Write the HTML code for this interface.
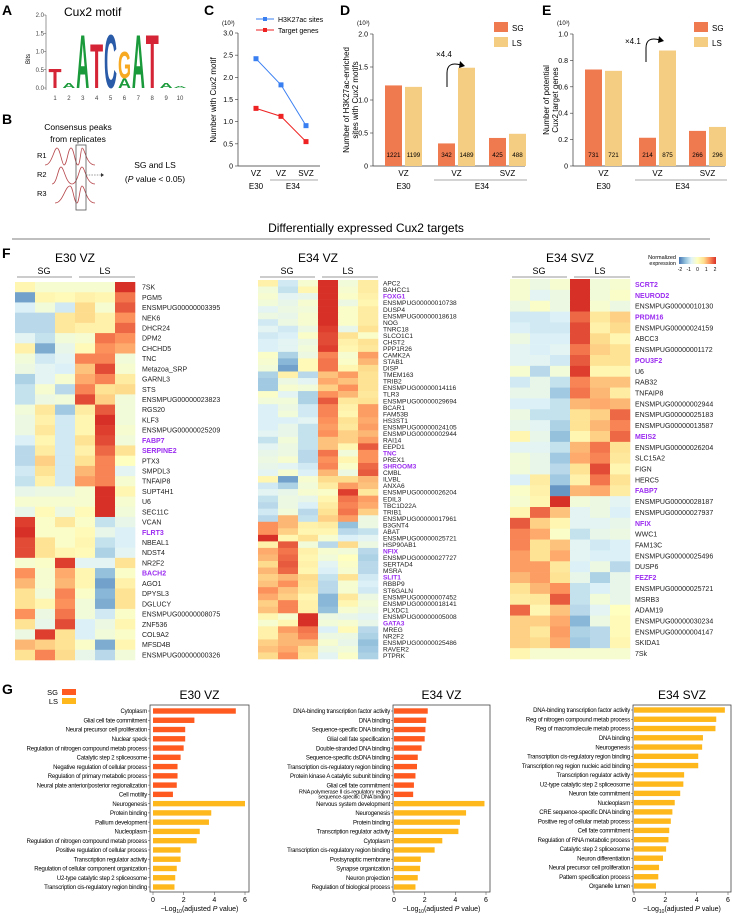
<!DOCTYPE html>
<html><head><meta charset="utf-8"><style>
body{margin:0;background:#fff}
svg{display:block;font-family:"Liberation Sans",Arial,sans-serif}
</style></head><body>
<svg id="fig" width="732" height="914" viewBox="0 0 732 914" xmlns="http://www.w3.org/2000/svg">
<!-- Panel letters -->
<g font-weight="bold" font-size="14" fill="#000">
<text x="2" y="15">A</text>
<text x="2" y="124">B</text>
<text x="204" y="15">C</text>
<text x="340" y="15">D</text>
<text x="542" y="15">E</text>
<text x="2" y="258">F</text>
<text x="2" y="694">G</text>
</g>
<!-- A motif -->
<g>
<text x="64" y="16" font-size="12">Cux2 motif</text>
<text transform="translate(30,59) rotate(-90)" font-size="6" text-anchor="middle">Bits</text>
<line x1="46" y1="15" x2="46" y2="90" stroke="#555" stroke-width="0.6"/>
<g id="logoTicks" font-size="6" fill="#444"></g>
<g id="logoLetters"></g>
</g>
<!-- B -->
<g font-size="8.5">
<text x="78" y="130" text-anchor="middle">Consensus peaks</text>
<text x="78" y="142" text-anchor="middle">from replicates</text>
<text x="37" y="158" font-size="7.5">R1</text>
<text x="37" y="177" font-size="7.5">R2</text>
<text x="37" y="196" font-size="7.5">R3</text>
<g fill="none" stroke="#b5454a" stroke-width="0.8">
<path d="M45,165 C52,165 54,148 57,148 C60,148 62,165 64,165 C67,165 68,148 71,148 C74,148 75,165 78,165 C80,165 81,148 82,148 C85,148 86,165 95,165"/>
<path d="M52,184 C57,184 58,167 61,167 C64,167 66,184 72,184 C78,184 79,167 82,167 C85,167 86,184 95,184"/>
<path d="M55,203 C63,203 65,186 70,186 C73,186 74,203 77,203 C79,203 80,186 82,186 C85,186 86,203 95,203"/>
</g>
<rect x="76" y="145" width="10" height="65" fill="none" stroke="#555" stroke-width="0.8"/>
<line x1="86" y1="175" x2="101" y2="175" stroke="#333" stroke-width="0.6" stroke-dasharray="1.5,1.2"/>
<path d="M101,173 L104,175 L101,177Z" fill="#333"/>
<text x="155" y="168" text-anchor="middle">SG and LS</text>
<text x="155" y="182" text-anchor="middle">(<tspan font-style="italic">P</tspan> value &lt; 0.05)</text>
</g>
<g id="panelC"></g>
<g id="panelD"></g>
<g id="panelE"></g>
<!-- section title -->
<text x="366" y="232" text-anchor="middle" font-size="12">Differentially expressed Cux2 targets</text>
<line x1="12" y1="239" x2="710" y2="239" stroke="#555" stroke-width="0.8"/>
<g id="panelF"></g>
<g id="panelG"></g>
</svg>
<script>
// ---------- data ----------
var motifPositions=[1,2,3,4,5,6,7,8,9,10];
var cGroups=["VZ","VZ","SVZ"];
var cH3K27ac=[2.42,1.83,0.91];
var cTargets=[1.30,1.12,0.55];
var cTicks=[0,0.5,1.0,1.5,2.0,2.5,3.0];
var barGroups=["VZ","VZ","SVZ"];
var dSG=[1221,342,425];
var dLS=[1199,1489,488];
var dTicks=[0,0.5,1.0,1.5,2.0];
var eSG=[731,214,266];
var eLS=[721,875,296];
var eTicks=[0,0.2,0.4,0.6,0.8,1.0];

var hm1Genes=["7SK","PGM5","ENSMPUG00000003395","NEK6","DHCR24","DPM2","CHCHD5","TNC","Metazoa_SRP","GARNL3","STS","ENSMPUG00000023823","RGS20","KLF3","ENSMPUG00000025209","FABP7","SERPINE2","PTX3","SMPDL3","TNFAIP8","SUPT4H1","U6","SEC11C","VCAN","FLRT3","NBEAL1","NDST4","NR2F2","BACH2","AGO1","DPYSL3","DGLUCY","ENSMPUG00000008075","ZNF536","COL9A2","MFSD4B","ENSMPUG00000000326"];
var hm1Purple=["FABP7","SERPINE2","FLRT3","BACH2"];
var hm1Values=[
[0.2,-0.2,-0.2,-0.2,-0.2,2.0],[-1.6,0.2,0.1,0.3,0.2,1.5],[-0.7,-0.3,-0.8,0.7,-0.2,1.7],[-1.0,-1.0,0.5,0.7,0.3,1.3],[-1.0,-1.0,0.5,0.3,0.3,1.6],[-0.6,-0.9,-0.3,-0.2,1.5,1.3],[0.3,-1.5,-0.5,0.1,1.3,1.1],[-0.3,-0.8,-0.6,1.4,1.4,-0.3],[-0.4,-0.6,-0.7,0.9,1.8,-0.2],[-1.1,-0.6,-0.2,1.1,1.4,0.4],[-0.9,-0.2,-1.0,1.4,0.6,0.7],[-0.9,-0.4,-0.3,1.8,0.8,-0.3],[-0.3,0.5,-1.2,0.4,1.7,-0.3],[-0.4,0.3,-0.8,0.2,2.0,-0.3],[-0.4,0.5,-0.8,0.2,1.9,-0.2],[-0.7,0.2,-0.8,0.6,1.8,-0.3],[-1.0,0.4,-0.8,0.3,1.6,0.6],[-1.0,0.8,-0.8,0.6,1.4,0.0],[-0.8,0.6,-0.8,1.0,1.4,-0.6],[-0.9,0.3,-0.8,1.2,1.4,-0.2],[-0.5,-0.4,-0.4,-0.2,2.1,0.2],[-0.2,-0.2,-0.2,-0.2,2.1,-0.2],[-0.5,0.1,-0.4,0.1,2.1,-0.3],[1.9,-0.1,0.5,-0.1,-0.9,-0.5],[2.1,-0.1,-0.1,0.1,-0.5,-0.7],[1.8,0.6,-0.1,0.2,-0.9,-0.7],[1.8,0.6,0.2,0.1,-1.1,-0.6],[-0.2,-0.1,1.9,-0.6,-0.6,0.6],[1.3,-0.2,1.1,0.2,-1.3,-0.1],[1.0,-0.2,1.0,0.2,-1.6,0.3],[0.6,-0.3,1.4,-0.1,-1.4,0.6],[0.6,0.2,1.3,-0.3,-1.5,0.6],[1.3,-0.4,1.5,-0.3,-0.8,-0.1],[0.6,-0.5,1.8,-0.7,-0.4,0.2],[-0.4,1.9,0.6,-0.7,-0.3,-0.1],[1.0,0.8,0.6,-0.1,-1.5,0.2],[0.6,1.4,0.7,-0.5,-1.0,-0.3]];

var hm2Genes=["APC2","BAHCC1","FOXG1","ENSMPUG00000010738","DUSP4","ENSMPUG00000018618","NOG","TNRC18","SLCO1C1","CHST2","PPP1R26","CAMK2A","STAB1","DISP","TMEM163","TRIB2","ENSMPUG00000014116","TLR3","ENSMPUG00000029694","BCAR1","FAM53B","HS3ST1","ENSMPUG00000024105","ENSMPUG00000002944","RAI14","EEPD1","TNC","PREX1","SHROOM3","CMBL","ILVBL","ANXA6","ENSMPUG00000026204","EDIL3","TBC1D22A","TRIB1","ENSMPUG00000017961","B3GNT4","ABAT","ENSMPUG00000025721","HSP90AB1","NFIX","ENSMPUG00000027727","SERTAD4","MSRA","SLIT1","RBBP9","ST6GALN","ENSMPUG00000007452","ENSMPUG00000018141","PLXDC1","ENSMPUG00000005008","GATA3","MREG","NR2F2","ENSMPUG00000025486","RAVER2","PTPRK"];
var hm2Purple=["FOXG1","TNC","SHROOM3","NFIX","SLIT1","GATA3"];
var hm2Values=[
[0.3,-0.8,-0.2,2.0,-0.3,0.4],[-0.3,-0.9,0.2,2.0,-0.2,0.4],[-0.2,-0.6,-0.5,2.0,-0.1,0.3],[-0.3,-0.5,-0.2,2.1,-0.4,0.2],[-0.6,-0.4,-0.3,2.0,-0.1,0.4],[-0.4,-0.5,-0.2,2.0,-0.1,0.4],[-0.8,-0.4,-0.2,2.0,-0.1,0.4],[-0.6,-0.8,-0.4,1.9,-0.5,0.6],[-0.8,-0.7,-0.1,1.8,0.6,-0.1],[-0.7,-0.6,-0.4,1.8,0.3,0.6],[-0.7,-0.6,-0.3,1.9,0.2,0.5],[-0.1,-1.1,-0.4,1.4,-0.2,1.2],[-0.2,-1.4,0.1,1.5,-0.1,1.0],[-0.3,-1.6,0.1,1.5,0.2,0.7],[-1.1,0.3,-1.0,0.9,1.2,0.6],[-1.2,-0.4,-0.6,1.1,0.9,0.6],[-1.2,-0.2,-0.3,0.8,1.3,0.6],[-0.1,-0.6,-1.1,1.3,1.0,0.5],[-0.3,-0.3,-1.1,1.7,0.5,0.6],[-0.7,-0.4,-0.8,1.4,0.3,1.2],[-0.7,-0.3,-0.8,1.4,0.2,1.2],[-0.7,-0.7,-0.6,1.3,0.6,1.1],[-0.7,-0.5,-0.9,1.2,0.5,1.2],[-0.6,-0.5,-0.9,1.3,0.8,1.0],[-0.9,-0.3,-0.9,0.9,0.8,1.2],[-0.6,-0.4,-0.9,0.9,0.2,1.7],[-0.5,-0.4,-1.0,1.5,-0.3,1.3],[-0.4,-0.2,-1.0,1.3,0.2,1.3],[-0.5,-0.6,-0.8,1.4,-0.1,1.6],[-0.6,-0.2,-0.7,1.0,-0.4,1.7],[0.2,-1.6,-0.2,0.7,0.7,1.0],[-0.8,-1.1,-0.3,0.4,1.2,0.9],[-0.6,-0.5,-0.2,-0.1,1.9,0.5],[-0.9,-0.4,-0.5,0.2,1.5,1.2],[-1.0,-0.4,-0.7,0.4,1.4,1.1],[-0.8,-0.3,-1.0,0.6,1.5,0.8],[-1.0,1.0,-0.9,0.8,1.2,-0.4],[1.3,1.0,0.3,0.4,-1.3,-0.4],[1.3,0.8,0.2,0.2,-1.0,-0.9],[2.0,0.2,0.6,-0.2,-0.7,-0.6],[0.3,1.7,-0.3,-1.0,0.7,-0.4],[1.1,1.5,0.3,-0.2,-0.3,-1.0],[1.0,1.6,0.2,-0.3,0.0,-1.1],[0.7,1.7,0.3,-0.6,-0.1,-1.0],[1.0,1.6,0.2,-0.7,-0.2,-1.0],[0.8,1.0,0.7,-0.9,0.6,-0.8],[0.9,1.3,0.6,-1.0,-0.2,-0.7],[1.3,0.9,0.5,-1.0,-0.2,-0.8],[1.1,0.8,0.2,-1.4,0.5,-0.4],[0.8,1.4,0.3,-1.4,0.2,-0.3],[0.9,1.4,0.3,-1.3,-0.2,-0.4],[0.2,-0.2,2.0,-0.4,-0.5,-0.6],[-0.2,0.2,2.0,-0.3,-0.2,-0.5],[0.3,1.2,1.5,-0.7,0.1,-1.0],[0.3,1.0,1.4,-0.4,-0.4,-1.1],[0.8,1.0,1.0,-0.2,-0.5,-1.3],[0.9,1.1,0.7,-0.4,-0.3,-1.2],[0.7,1.3,0.6,-0.6,-0.1,-1.1]];

var hm3Genes=["SCRT2","NEUROD2","ENSMPUG00000010130","PRDM16","ENSMPUG00000024159","ABCC3","ENSMPUG00000001172","POU3F2","U6","RAB32","TNFAIP8","ENSMPUG00000002944","ENSMPUG00000025183","ENSMPUG00000013587","MEIS2","ENSMPUG00000026204","SLC15A2","FIGN","HERC5","FABP7","ENSMPUG00000028187","ENSMPUG00000027937","NFIX","WWC1","FAM13C","ENSMPUG00000025496","DUSP6","FEZF2","ENSMPUG00000025721","MSRB3","ADAM19","ENSMPUG00000030234","ENSMPUG00000004147","SKIDA1","7Sk"];
var hm3Purple=["SCRT2","NEUROD2","PRDM16","POU3F2","MEIS2","FABP7","NFIX","FEZF2"];
var hm3Values=[
[-0.2,-0.4,-0.2,2.1,-0.3,-0.2],[-0.2,-0.6,-0.4,2.1,-0.3,-0.1],[-0.4,-0.1,-0.4,2.1,-0.2,-0.4],[-0.8,-0.8,-0.7,1.6,0.5,0.8],[-0.7,-0.8,-0.8,1.8,0.3,0.7],[-0.4,-0.7,-0.7,1.8,0.7,0.2],[-0.6,-0.7,-0.6,1.5,0.8,0.6],[-0.6,-0.6,-0.8,1.7,0.6,0.6],[-0.2,-1.0,-0.3,1.9,0.2,0.2],[-0.8,-0.5,-0.9,1.4,0.9,0.9],[-0.5,-0.5,-1.2,1.5,1.0,0.4],[-0.7,-0.7,-0.9,1.0,1.1,1.0],[-0.4,-0.9,-0.9,0.6,0.8,1.6],[-0.5,-0.6,-1.1,0.6,1.0,1.4],[0.2,-0.5,-1.3,0.2,0.8,1.6],[-0.6,-0.6,-0.9,1.0,1.5,0.6],[-0.3,-0.5,-1.2,1.1,1.4,0.5],[-0.3,-0.5,-1.0,0.6,1.8,0.2],[-0.7,0.4,-1.2,0.3,1.5,0.6],[-0.1,0.3,-1.7,1.0,1.1,0.4],[-0.2,0.2,2.0,-0.3,-0.4,-0.6],[0.2,1.6,0.9,-0.6,-0.4,-0.7],[1.7,0.8,0.2,-0.6,-0.6,-0.5],[1.4,1.1,-0.1,-0.9,-0.5,-0.4],[1.4,0.6,0.9,-0.6,-0.8,-0.7],[1.2,0.6,1.1,-0.6,-0.7,-0.7],[1.2,1.2,0.5,-0.7,-0.4,-1.0],[1.0,1.2,0.6,-0.5,-1.1,-0.5],[0.6,1.0,1.3,-0.9,-0.7,-0.5],[0.4,0.5,1.7,-0.9,-0.3,-0.5],[1.6,0.2,0.9,-1.0,-0.6,0.0],[0.8,0.8,1.1,-1.4,-0.4,0.1],[0.8,0.5,1.2,-1.1,-1.0,0.1],[0.8,0.7,1.1,-1.2,-1.0,0.2],[0.2,-0.2,-0.2,-0.2,-0.2,-0.2]];
var colorbarTicks=[-2,-1,0,1,2];

var g1Terms=["Cytoplasm","Glial cell fate commitment","Neural precursor cell proliferation","Nuclear speck","Regulation of nitrogen compound metab process","Catalytic step 2 spliceosome","Negative regulation of cellular process","Regulation of primary metabolic process","Neural plate anterior/posterior regionalization","Cell motility","Neurogenesis","Protein binding","Pallium development","Nucleoplasm","Regulation of nitrogen compound metab process","Positive regulation of cellular process","Transcription regulator activity","Regulation of cellular component organization","U2-type catalytic step 2 spliceosome","Transcription cis-regulatory region binding"];
var g1Values=[5.4,2.7,2.1,2.1,2.0,1.8,1.6,1.6,1.55,1.3,6.0,3.8,3.65,3.05,2.85,1.8,1.8,1.55,1.45,1.4];
var g1Group=["SG","SG","SG","SG","SG","SG","SG","SG","SG","SG","LS","LS","LS","LS","LS","LS","LS","LS","LS","LS"];
var g2Terms=["DNA-binding transcription factor activity","DNA binding","Sequence-specific DNA binding","Glial cell fate specification","Double-stranded DNA binding","Sequence-specific dsDNA binding","Transcription cis-regulatory region binding","Protein kinase A catalytic subunit binding","Glial cell fate commitment","RNA polymerase II cis-regulatory region|sequence-specific DNA binding","Nervous system development","Neurogenesis","Protein binding","Transcription regulator activity","Cytoplasm","Transcription cis-regulatory region binding","Postsynaptic membrane","Synapse organization","Neuron projection","Regulation of biological process"];
var g2Values=[2.2,2.1,2.05,2.0,1.8,1.55,1.5,1.4,1.3,1.25,5.9,4.7,4.3,4.2,3.15,2.65,1.75,1.7,1.55,1.4];
var g2Group=["SG","SG","SG","SG","SG","SG","SG","SG","SG","SG","LS","LS","LS","LS","LS","LS","LS","LS","LS","LS"];
var g3Terms=["DNA-binding transcription factor activity","Reg of nitrogen compound metab process","Reg of macromolecule metab process","DNA binding","Neurogenesis","Transcription cis-regulatory region binding","Transcription reg region nucleic acid binding","Transcription regulator activity","U2-type catalytic step 2 spliceosome","Neuron fate commitment","Nucleoplasm","CRE sequence-specific DNA binding","Positive reg of cellular metab process","Cell fate commitment","Regulation of RNA metabolic process","Catalytic step 2 spliceosome","Neuron differentiation","Neural precursor cell proliferation","Pattern specification process","Organelle lumen"];
var g3Values=[5.8,5.25,5.2,4.4,4.35,4.1,4.1,3.2,3.15,2.95,2.6,2.45,2.35,2.25,2.2,2.05,1.85,1.6,1.55,1.4];
var g3Group=["LS","LS","LS","LS","LS","LS","LS","LS","LS","LS","LS","LS","LS","LS","LS","LS","LS","LS","LS","LS"];
var gTicks=[0,2,4,6];

// ---------- helpers ----------
var NS="http://www.w3.org/2000/svg";
function el(tag,attrs,parent,text){var e=document.createElementNS(NS,tag);for(var k in attrs)e.setAttribute(k,attrs[k]);if(text!==undefined)e.textContent=text;parent.appendChild(e);return e;}
function lin(d0,d1,r0,r1){return function(v){return r0+(v-d0)*(r1-r0)/(d1-d0);};}

// ---------- A logo ----------
(function(){
 var tg=document.getElementById('logoTicks');
 var yb=lin(0,2,88,15);
 [0,0.5,1.0,1.5,2.0].forEach(function(t){el('text',{x:44,y:yb(t)+2,'text-anchor':'end'},tg,t.toFixed(1));el('line',{x1:44,x2:46,y1:yb(t),y2:yb(t),stroke:'#555','stroke-width':0.5},tg);});
 var xp=lin(1,10,55,180);
 motifPositions.forEach(function(p){el('text',{x:xp(p),y:100,'text-anchor':'middle'},tg,p);});
 var stacks=[[["T",0.55]],[["A",0.15]],[["A",1.5]],[["T",1.25]],[["C",1.5]],[["A",0.28],["G",0.75]],[["A",1.5]],[["T",1.5]],[["A",0.15]],[["A",0.06]]];
 var cols={A:'#1a9a3a',T:'#d42435',C:'#2a5ba8',G:'#f6a921'};
 var lg=document.getElementById('logoLetters');
 stacks.forEach(function(st,i){var base=88;st.forEach(function(s){var h=s[1]*(88-15)/2;var t=el('text',{x:0,y:0,'font-size':100,'font-weight':'bold',fill:cols[s[0]],textLength:70,lengthAdjust:'spacingAndGlyphs',transform:'translate('+(xp(i+1)-6.5)+','+base+') scale('+(13/70)+','+(h/72)+')'},lg,s[0]);base-=h;});});
})();

// ---------- C ----------
(function(){
 var g=document.getElementById('panelC');
 var y=lin(0,3,166,33), xs=[256,281,306];
 el('line',{x1:238,x2:238,y1:33,y2:166,stroke:'#333','stroke-width':0.7},g);
 el('line',{x1:238,x2:320,y1:166,y2:166,stroke:'#333','stroke-width':0.7},g);
 cTicks.forEach(function(t){el('line',{x1:235,x2:238,y1:y(t),y2:y(t),stroke:'#333','stroke-width':0.6},g);el('text',{x:233,y:y(t)+2.5,'text-anchor':'end','font-size':7},g,t===0?'0':t.toFixed(1));});
 el('text',{x:222,y:25,'font-size':6},g,'(10³)');
 el('text',{transform:'translate(216,100) rotate(-90)','text-anchor':'middle','font-size':8},g,'Number with Cux2 motif');
 function series(vals,col,name){var pts=vals.map(function(v,i){return xs[i]+','+y(v);}).join(' ');var pl=el('polyline',{points:pts,fill:'none',stroke:col,'stroke-width':1},g);vals.forEach(function(v,i){var r=el('rect',{x:xs[i]-2.5,y:y(v)-2.5,width:5,height:5,fill:col},g);});}
 series(cH3K27ac,'#3a7ff2','h3k27ac');series(cTargets,'#ee2222','target-genes');
 el('line',{x1:256,x2:274,y1:19,y2:19,stroke:'#3a7ff2'},g);el('rect',{x:263,y:17,width:4,height:4,fill:'#3a7ff2'},g);el('text',{x:278,y:22,'font-size':7},g,'H3K27ac sites');
 el('line',{x1:256,x2:274,y1:30,y2:30,stroke:'#ee2222'},g);el('rect',{x:263,y:28,width:4,height:4,fill:'#ee2222'},g);el('text',{x:278,y:33,'font-size':7},g,'Target genes');
 cGroups.forEach(function(c,i){el('text',{x:xs[i],y:176,'text-anchor':'middle','font-size':8},g,c);});
 el('text',{x:256,y:189,'text-anchor':'middle','font-size':8},g,'E30');
 el('line',{x1:270,x2:318,y1:180,y2:180,stroke:'#555','stroke-width':0.5},g);
 el('text',{x:293,y:189,'text-anchor':'middle','font-size':8},g,'E34');
})();

// ---------- D / E ----------
function barPanel(id,ax,sg,ls,ticks,max,bx,titles,fold,arrow){
 var g=document.getElementById(id);
 var y=lin(0,max,166,34);
 el('line',{x1:ax,x2:ax,y1:34,y2:166,stroke:'#333','stroke-width':0.7},g);
 el('line',{x1:ax,x2:ax+152,y1:166,y2:166,stroke:'#333','stroke-width':0.7},g);
 ticks.forEach(function(t){el('line',{x1:ax-3,x2:ax,y1:y(t),y2:y(t),stroke:'#333','stroke-width':0.6},g);el('text',{x:ax-5,y:y(t)+2.5,'text-anchor':'end','font-size':7},g,t===0?'0':t.toFixed(1));});
 el('text',{x:ax-16,y:25,'font-size':6},g,'(10³)');
 el('text',{transform:'translate('+(ax-24)+',100) rotate(-90)','text-anchor':'middle','font-size':8},g,titles[0]);
 el('text',{transform:'translate('+(ax-15)+',100) rotate(-90)','text-anchor':'middle','font-size':8},g,titles[1]);
 for(var i=0;i<3;i++){
  var x0=bx[i];
  var r1=el('rect',{x:x0,y:y(sg[i]/1000),width:17,height:166-y(sg[i]/1000),fill:'#f07a50'},g);
  
  var r2=el('rect',{x:x0+20,y:y(ls[i]/1000),width:17,height:166-y(ls[i]/1000),fill:'#f5cd82'},g);
  
  el('text',{x:x0+8.5,y:157,'text-anchor':'middle','font-size':6.3},g,sg[i]);
  el('text',{x:x0+28.5,y:157,'text-anchor':'middle','font-size':6.3},g,ls[i]);
  el('text',{x:x0+18.5,y:176,'text-anchor':'middle','font-size':8},g,barGroups[i]);
 }
 el('text',{x:bx[0]+18.5,y:189,'text-anchor':'middle','font-size':8},g,'E30');
 el('line',{x1:bx[1]-4,x2:bx[2]+38,y1:180,y2:180,stroke:'#555','stroke-width':0.5},g);
 el('text',{x:(bx[1]+bx[2]+37)/2,y:189,'text-anchor':'middle','font-size':8},g,'E34');
 el('rect',{x:ax+121,y:22,width:14,height:10,fill:'#f07a50'},g);el('text',{x:ax+139,y:31,'font-size':8},g,'SG');
 el('rect',{x:ax+121,y:37,width:14,height:10,fill:'#f5cd82'},g);el('text',{x:ax+139,y:46,'font-size':8},g,'LS');
 var a=arrow;
 el('path',{d:'M'+a[0]+','+a[1]+' L'+a[0]+','+(a[1]-14)+' Q'+a[0]+','+(a[1]-26)+' '+(a[0]+14)+','+(a[1]-22),fill:'none',stroke:'#000','stroke-width':1},g);
 el('path',{d:'M'+(a[0]+13)+','+(a[1]-26)+' L'+(a[0]+18)+','+(a[1]-21)+' L'+(a[0]+12)+','+(a[1]-19)+'Z',fill:'#000'},g);
 el('text',{x:fold[1],y:fold[2],'font-size':8},g,fold[0]);
}
barPanel('panelD',373,dSG,dLS,dTicks,2.0,[385,438,489],['Number of H3K27ac-enriched','sites with Cux2 motifs'],['×4.4',436,57],[447,87]);
barPanel('panelE',573,eSG,eLS,eTicks,1.0,[585,639,689],['Number of potential','Cux2 target genes'],['×4.1',625,44],[646,62]);

// ---------- F heatmaps ----------
var stops=[[-2,[69,117,180]],[-1.33,[145,191,219]],[-0.67,[224,243,248]],[0,[255,255,191]],[0.67,[254,224,144]],[1.33,[252,141,89]],[2,[215,48,39]]];
function hcol(v){v=Math.max(-2,Math.min(2,v));for(var i=0;i<stops.length-1;i++){if(v<=stops[i+1][0]){var t=(v-stops[i][0])/(stops[i+1][0]-stops[i][0]);var a=stops[i][1],b=stops[i+1][1];return 'rgb('+[0,1,2].map(function(k){return Math.round(a[k]+(b[k]-a[k])*t);}).join(',')+')';}}return 'rgb(215,48,39)';}
function heatmap(title,genes,vals,purple,x0,y0,y1,fs,tx){
 var g=document.getElementById('panelF');
 var sub=el('g',{},g);
 var cw=20,rh=(y1-y0)/genes.length;
 el('text',{x:x0+60,y:262,'text-anchor':'middle','font-size':12},sub,title);
 el('text',{x:x0+29,y:274,'text-anchor':'middle','font-size':9},sub,'SG');
 el('text',{x:x0+90,y:274,'text-anchor':'middle','font-size':9},sub,'LS');
 el('line',{x1:x0+2,x2:x0+57,y1:277,y2:277,stroke:'#777','stroke-width':0.8},sub);
 el('line',{x1:x0+64,x2:x0+120,y1:277,y2:277,stroke:'#777','stroke-width':0.8},sub);
 vals.forEach(function(row,r){row.forEach(function(v,c){var cell=el('rect',{x:x0+c*cw,y:y0+r*rh,width:cw+0.3,height:rh+0.3,fill:hcol(v)},sub);});});
 genes.forEach(function(gn,r){var p=purple.indexOf(gn)>=0;var t=el('text',{x:tx,y:y0+(r+0.5)*rh+fs*0.36,'font-size':fs,fill:p?'#9b2cf0':'#222','font-weight':p?'bold':'normal'},sub,gn);});
}
heatmap('E30 VZ',hm1Genes,hm1Values,hm1Purple,15,282,660,7,142);
heatmap('E34 VZ',hm2Genes,hm2Values,hm2Purple,258,280,659,6.6,383);
heatmap('E34 SVZ',hm3Genes,hm3Values,hm3Purple,510,279,659,7,635);
(function(){
 var g=document.getElementById('panelF');
 var cb=el('g',{},g);
 var d=el('defs',{},cb);var lgd=el('linearGradient',{id:'cbg',x1:0,x2:1,y1:0,y2:0},d);
 stops.forEach(function(s){el('stop',{offset:((s[0]+2)/4*100)+'%','stop-color':'rgb('+s[1].join(',')+')'},lgd);});
 el('rect',{x:679,y:257,width:37,height:7,fill:'url(#cbg)'},cb);
 el('text',{x:676,y:259,'text-anchor':'end','font-size':5.5},cb,'Normalized');
 el('text',{x:676,y:265,'text-anchor':'end','font-size':5.5},cb,'expression');
 var cx=lin(-2,2,680,715);
 colorbarTicks.forEach(function(t){el('text',{x:cx(t),y:271,'text-anchor':'middle','font-size':5},cb,t);});
})();

// ---------- G ----------
function goPanel(title,terms,vals,grp,bx0,bx1,x0,x6,y0,yl){
 var g=document.getElementById('panelG');
 var sub=el('g',{},g);
 var x=lin(0,6,x0,x6),y=lin(0,terms.length-1,y0,yl);
 el('text',{x:(bx0+bx1)/2,y:699,'text-anchor':'middle','font-size':12},sub,title);
 el('rect',{x:bx0,y:705,width:bx1-bx0,height:187,fill:'none',stroke:'#444','stroke-width':0.8},sub);
 vals.forEach(function(v,i){var b=el('rect',{x:x(0),y:y(i)-2.7,width:x(v)-x(0),height:5.4,fill:grp[i]==='SG'?'#ff5a1f':'#ffb81c'},sub);});
 terms.forEach(function(t,i){el('line',{x1:bx0-2,x2:bx0,y1:y(i),y2:y(i),stroke:'#444','stroke-width':0.5},sub);
  var parts=t.split('|');
  if(parts.length===1){el('text',{x:bx0-3,y:y(i)+2.2,'text-anchor':'end','font-size':6,'letter-spacing':-0.2},sub,t);}
  else{el('text',{x:bx0-3,y:y(i)-0.8,'text-anchor':'end','font-size':5.6,'letter-spacing':-0.2},sub,parts[0]);el('text',{x:bx0-3,y:y(i)+4.2,'text-anchor':'end','font-size':5.6,'letter-spacing':-0.2},sub,parts[1]);}
 });
 gTicks.forEach(function(t){el('line',{x1:x(t),x2:x(t),y1:892,y2:895,stroke:'#444','stroke-width':0.5},sub);el('text',{x:x(t),y:902,'text-anchor':'middle','font-size':7},sub,t);});
 var at=el('text',{x:(bx0+bx1)/2,y:911,'text-anchor':'middle','font-size':7},sub);
 at.innerHTML='−Log<tspan font-size="5" dy="2">10</tspan><tspan dy="-2">(adjusted </tspan><tspan font-style="italic">P</tspan> value)';
}
goPanel('E30 VZ',g1Terms,g1Values,g1Group,150,249,153,245,711,887);
goPanel('E34 VZ',g2Terms,g2Values,g2Group,393,490,394,486,711,887);
goPanel('E34 SVZ',g3Terms,g3Values,g3Group,633,731,634,728,710,886);
(function(){var g=document.getElementById('panelG');var lg=el('g',{},g);
 el('text',{x:58,y:695,'text-anchor':'end','font-size':7.5},lg,'SG');el('rect',{x:62,y:689,width:14,height:6,fill:'#ff5a1f'},lg);
 el('text',{x:58,y:704,'text-anchor':'end','font-size':7.5},lg,'LS');el('rect',{x:62,y:698,width:14,height:6,fill:'#ffb81c'},lg);})();
</script>
</body></html>
